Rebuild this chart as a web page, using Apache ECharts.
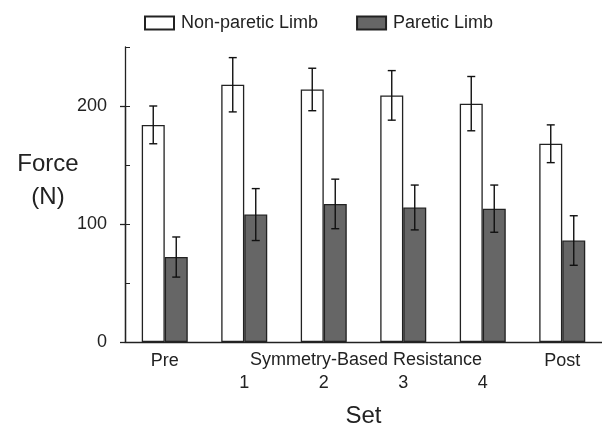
<!DOCTYPE html>
<html>
<head>
<meta charset="utf-8">
<script src="https://cdn.jsdelivr.net/npm/echarts@6/dist/echarts.min.js"></script>
<style>
  html, body { margin: 0; padding: 0; background: #fff; }
  #chart { width: 602px; height: 433px; }
</style>
</head>
<body>
<div id="chart"></div>
<script>
// data
var sets = ['Pre', '\n1', '\n2', '\n3', '\n4', 'Post'];
var nonParetic = [184, 218, 214, 209, 202, 168];
var nonPareticErr = [16, 23, 18, 21, 23, 16];
var paretic = [72, 108, 117, 114, 113, 86];
var pareticErr = [17, 22, 21, 19, 20, 21];
var yTicksLabelled = [0, 100, 200];

var BAR_W = 23;
var FONT = 'Liberation Sans, Arial, sans-serif';
var INK = '#222';

function errSeries(name, vals, errs, side) {
  var data = vals.map(function (v, i) { return [i, v - errs[i], v + errs[i]]; });
  return {
    type: 'custom',
    name: name + ' err',
    z: 5,
    data: data,
    renderItem: function (params, api) {
      var lo = api.coord([api.value(0), api.value(1)]);
      var hi = api.coord([api.value(0), api.value(2)]);
      var x = lo[0] + side * BAR_W / 2;
      var cap = 4;
      var st = { stroke: '#111', lineWidth: 1.4 };
      return {
        type: 'group',
        children: [
          { type: 'line', shape: { x1: x, y1: lo[1], x2: x, y2: hi[1] }, style: st },
          { type: 'line', shape: { x1: x - cap, y1: hi[1], x2: x + cap, y2: hi[1] }, style: st },
          { type: 'line', shape: { x1: x - cap, y1: lo[1], x2: x + cap, y2: lo[1] }, style: st }
        ]
      };
    },
    encode: { x: 0, y: [1, 2] },
    silent: true
  };
}

var chart = echarts.init(document.getElementById('chart'));
chart.setOption({
  animation: false,
  textStyle: { fontFamily: FONT, color: INK },
  legend: {
    left: 144, top: 14, padding: 0,
    icon: 'rect',
    itemWidth: 29, itemHeight: 13, itemGap: 38,
    textStyle: { fontSize: 18, color: INK, padding: [0, 0, 0, 2] },
    data: ['Non-paretic Limb', 'Paretic Limb']
  },
  grid: [
    { left: 125, top: 47, width: 480, height: 295, containLabel: false },
    // helper grid for the outward major ticks (0..200)
    { left: 125, top: 106, width: 480, height: 236, containLabel: false }
  ],
  xAxis: [{
    type: 'category',
    data: sets,
    axisLine: { lineStyle: { color: '#222', width: 1.3 } },
    axisTick: { show: false },
    axisLabel: { fontSize: 18, color: INK, margin: 8, lineHeight: 22 },
    name: 'Set',
    nameLocation: 'middle',
    nameGap: 62,
    nameTextStyle: { fontSize: 24, color: INK }
  }, {
    type: 'category', gridIndex: 1, data: sets,
    axisLine: { show: false }, axisTick: { show: false }, axisLabel: { show: false }
  }],
  yAxis: [{
    type: 'value', min: 0, max: 250, interval: 50,
    axisLine: { show: true, lineStyle: { color: '#222', width: 1.3 } },
    axisTick: { show: true, inside: true, length: 5, lineStyle: { color: '#222' } },
    splitLine: { show: false },
    axisLabel: {
      fontSize: 18, color: INK, margin: 18,
      formatter: function (v) { return yTicksLabelled.indexOf(v) >= 0 ? String(v) : ''; }
    }
  }, {
    type: 'value', gridIndex: 1, min: 0, max: 200, interval: 100,
    axisLine: { show: true, lineStyle: { color: '#222', width: 1.3 } },
    axisTick: { show: true, inside: false, length: 5, lineStyle: { color: '#222', width: 1.3 } },
    splitLine: { show: false },
    axisLabel: { show: false }
  }],
  graphic: [
    { type: 'text', x: 366, y: 360, style: { text: 'Symmetry-Based Resistance', fontSize: 18, fontFamily: FONT, fill: INK, align: 'center', verticalAlign: 'middle' } },
    { type: 'text', x: 48, y: 181, style: { text: 'Force\n(N)', fontSize: 24, lineHeight: 33, fontFamily: FONT, fill: INK, align: 'center', verticalAlign: 'middle' } }
  ],
  series: [
    {
      name: 'Non-paretic Limb', type: 'bar', data: nonParetic,
      barWidth: BAR_W, barGap: '0%',
      itemStyle: { color: '#fff', borderColor: '#222', borderWidth: 1.3 }
    },
    {
      name: 'Paretic Limb', type: 'bar', data: paretic,
      barWidth: BAR_W, barGap: '0%',
      itemStyle: { color: '#666', borderColor: '#222', borderWidth: 1.3 }
    },
    errSeries('Non-paretic Limb', nonParetic, nonPareticErr, -1),
    errSeries('Paretic Limb', paretic, pareticErr, 1)
  ]
});
</script>
</body>
</html>
